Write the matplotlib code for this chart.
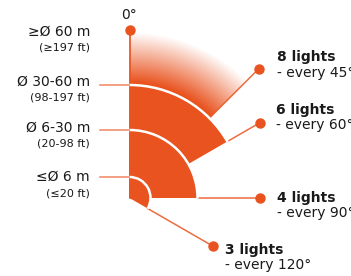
import numpy as np
import matplotlib
matplotlib.use("Agg")
import matplotlib.pyplot as plt
import matplotlib.patches as mpatches

# Data
lights = [3, 4, 6, 8]
spacing_deg = [120, 90, 60, 45]
size_m = ["≤Ø 6 m", "Ø 6-30 m", "Ø 30-60 m", "≥Ø 60 m"]
size_ft = ["(≤20 ft)", "(20-98 ft)", "(98-197 ft)", "(≥197 ft)"]
band_radius = [21, 68, 113, 166]   # outer radius of each band (last one fades out)

# Style
ORANGE = "#e9531f"
TEXT = "#1a1a1a"
plt.rcParams["font.family"] = ["DejaVu Sans"]

CX, CY = 129.5, 198.0
DOT_R = [96, 130, 151, 183]          # where each ray ends (dot)
LABEL_XY = [(225, 250), (277, 198), (276, 110), (277, 57)]
LEFT_Y = [177, 128, 82, 32]


def theta(a):
    # compass angle (clockwise from up) -> data angle with y pointing down
    return a - 90


def polar(r, a):
    t = np.radians(theta(a))
    return CX + r * np.cos(t), CY + r * np.sin(t)


fig = plt.figure(figsize=(3.51, 2.76), dpi=100)
ax = fig.add_axes([0, 0, 1, 1])

# faded outer band (8 lights)
xs = np.linspace(CX - 5, CX + 180, 400)
ys = np.linspace(CY - 180, CY + 5, 400)
X, Y = np.meshgrid(xs, ys)
R = np.hypot(X - CX, Y - CY)
alpha = np.clip((band_radius[3] - R) / (band_radius[3] - band_radius[2] - 3), 0, 1)
rgba = np.zeros(X.shape + (4,))
rgba[..., :3] = matplotlib.colors.to_rgb(ORANGE)
rgba[..., 3] = alpha
img = ax.imshow(rgba, extent=(xs[0], xs[-1], ys[-1], ys[0]), origin="upper",
                interpolation="bilinear", zorder=1)
clip = mpatches.Wedge((CX, CY), band_radius[3] + 10, theta(0), theta(spacing_deg[3]),
                      transform=ax.transData)
img.set_clip_path(clip)
ax.set_xlim(0, 351)
ax.set_ylim(276, 0)
ax.set_aspect("auto")
ax.axis("off")

# solid bands
for r, a in zip(band_radius[:3][::-1], spacing_deg[:3][::-1]):
    ax.add_patch(mpatches.Wedge((CX, CY), r, theta(0), theta(a),
                                facecolor=ORANGE, edgecolor="none", zorder=2))

# white separators
for r, a in zip(band_radius[:3], spacing_deg[:3]):
    ax.add_patch(mpatches.Arc((CX, CY), 2 * r, 2 * r, theta1=theta(0),
                              theta2=theta(a) + 0.5, color="white", lw=1.8, zorder=3))

# 0 degree axis
ax.plot([CX, CX], [CY, CY - 168], color=ORANGE, lw=1.2, zorder=2)
ax.plot([CX], [CY - 168], "o", color=ORANGE, ms=6.5, zorder=4)
ax.text(CX, 15, "0°", ha="center", va="center", fontsize=10, color=TEXT)

# rays and light labels
for i, (n, a) in enumerate(zip(lights, spacing_deg)):
    r0 = band_radius[min(i, 2)]
    x0, y0 = polar(r0, a)
    x1, y1 = polar(DOT_R[i], a)
    ax.plot([x0, x1], [y0, y1], color=ORANGE, lw=1.1, alpha=0.85, zorder=2)
    ax.plot([x1], [y1], "o", color=ORANGE, ms=6.5, zorder=4)
    lx, ly = LABEL_XY[i]
    ax.text(lx, ly, f"{n} lights", ha="left", va="center", fontsize=10,
            fontweight="bold", color=TEXT)
    ax.text(lx, ly + 15.5, f"- every {a}°", ha="left", va="center", fontsize=10,
            color=TEXT)

# size labels on the left
for i in range(4):
    y = LEFT_Y[i]
    ax.text(90, y, size_m[i], ha="right", va="center", fontsize=10, color=TEXT)
    ax.text(90, y + 16, size_ft[i], ha="right", va="center", fontsize=8, color=TEXT)
    if i < 3:
        yl = CY - band_radius[i]
        ax.plot([100, CX], [yl, yl], color=ORANGE, lw=1.1, alpha=0.7, zorder=1)

fig.savefig("out.png", dpi=100)
plt.close(fig)
